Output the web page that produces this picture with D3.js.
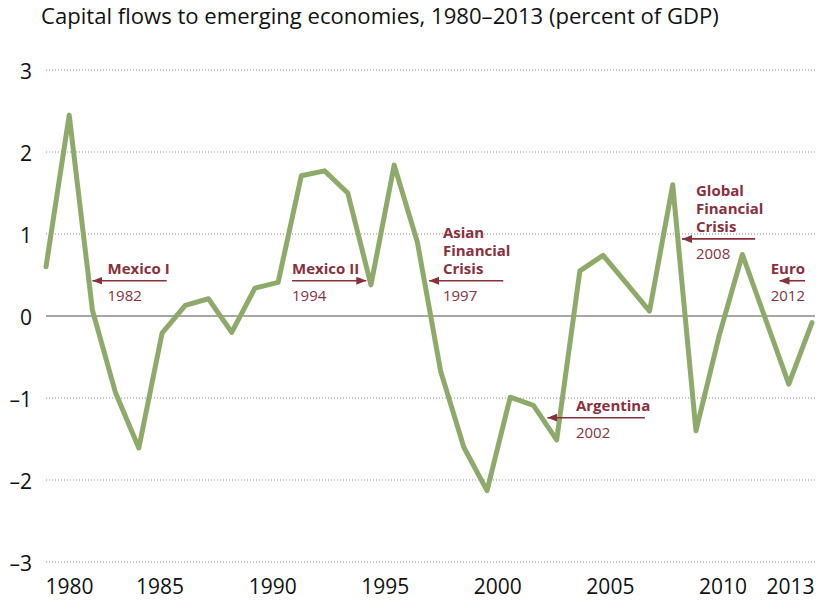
<!DOCTYPE html>
<html><head><meta charset="utf-8">
<script src="https://cdn.jsdelivr.net/npm/d3@7"></script>
<style>
body{margin:0;background:#fff;}
svg{display:block;font-family:"Open Sans",sans-serif;}
</style></head><body>
<svg id="chart" width="820" height="604"></svg>
<script>
// ---- data ----
const years = d3.range(1980, 2014);
const flows = [0.60, 2.45, 0.07, -0.94, -1.61, -0.21, 0.13, 0.21, -0.20, 0.34,
               0.41, 1.71, 1.77, 1.50, 0.38, 1.84, 0.90, -0.67, -1.60, -2.13,
               -0.99, -1.09, -1.51, 0.55, 0.74, 0.40, 0.06, 1.60, -1.40, -0.24,
               0.75, -0.04, -0.83, -0.08];
const yTicks = [-3, -2, -1, 0, 1, 2, 3];
const xTicks = [1980, 1985, 1990, 1995, 2000, 2005, 2010, 2013];
const eventNames = [["Mexico I"], ["Mexico II"], ["Asian", "Financial", "Crisis"], ["Argentina"], ["Global", "Financial", "Crisis"], ["Euro"]];
const eventYears = ["1982", "1994", "1997", "2002", "2008", "2012"];
// arrow tip (year, value) and tail year, label anchor year
const arrowTip = [[1982.0, 0.43], [1993.8, 0.43], [1996.5, 0.43], [2001.6, -1.24], [2007.4, 0.94], [2011.6, 0.43]];
const arrowTail = [1985.2, 1990.6, 1999.7, 2005.8, 2010.55, 2012.7];
const labelAt = [1982.65, 1990.6, 1997.1, 2002.83, 2008.0, 2012.7];
const title = "Capital flows to emerging economies, 1980–2013 (percent of GDP)";

// ---- drawing ----
const svg = d3.select("#chart");
const x = d3.scaleLinear().domain([1980, 2013]).range([46, 812]);
const xLab = d3.scaleLinear().domain([1980, 2013]).range([47, 790]);
const y = d3.scaleLinear().domain([-3, 3]).range([562, 70]);
const gridRight = 815;
const maroon = "#8a2f3d";

svg.append("text").attr("x", 41).attr("y", 24)
  .attr("font-size", 22.1).attr("fill", "#111").text(title);

// grid
svg.append("g").selectAll("line").data(yTicks.filter(d => d !== 0)).join("line")
  .attr("x1", 46).attr("x2", gridRight)
  .attr("y1", d => y(d)).attr("y2", d => y(d))
  .attr("stroke", "#8c8c8c").attr("stroke-width", 1).attr("stroke-dasharray", "1,2");
svg.append("line").attr("x1", 46).attr("x2", gridRight)
  .attr("y1", y(0)).attr("y2", y(0)).attr("stroke", "#8a8a8a").attr("stroke-width", 1.5);

// y axis labels
const yAxis = d3.axisLeft(y).tickValues(yTicks).tickSize(0).tickPadding(0)
  .tickFormat(d => d < 0 ? "–" + Math.abs(d) : String(d));
const gy = svg.append("g").attr("transform", "translate(32,0)").call(yAxis);
gy.select(".domain").remove();
gy.selectAll("text").attr("font-size", 21).attr("fill", "#111")
  .attr("font-family", "Open Sans, sans-serif").attr("dy", "0.42em");

// x axis labels
const xAxis = d3.axisBottom(xLab).tickValues(xTicks).tickSize(0).tickPadding(0).tickFormat(d3.format("d"));
const gx = svg.append("g").attr("transform", "translate(0,578)").call(xAxis);
gx.select(".domain").remove();
gx.selectAll("text").attr("font-size", 21).attr("fill", "#111")
  .attr("font-family", "Open Sans, sans-serif").attr("dy", "0.75em")
  .attr("text-anchor", (d, i) => i === 0 ? "start" : "middle")
  .attr("dx", (d, i) => i === 0 ? -2 : 0);

// line
const line = d3.line().x((d, i) => x(years[i])).y(d => y(d));
svg.append("path").datum(flows).attr("d", line)
  .attr("fill", "none").attr("stroke", "#8eaa6b").attr("stroke-width", 5)
  .attr("stroke-linejoin", "round").attr("stroke-linecap", "round");

// arrows
const defs = svg.append("defs");
defs.append("marker").attr("id", "ah").attr("viewBox", "0 0 10 10")
  .attr("refX", 10).attr("refY", 5).attr("markerWidth", 10).attr("markerHeight", 10)
  .attr("markerUnits", "userSpaceOnUse").attr("orient", "auto")
  .append("path").attr("d", "M0,1 L10,5 L0,9 Z").attr("fill", maroon);

const ann = svg.append("g");
eventNames.forEach((lines, i) => {
  const tx = x(arrowTip[i][0]), ty = y(arrowTip[i][1]);
  const tail = x(arrowTail[i]);
  ann.append("line").attr("x1", tail).attr("y1", ty).attr("x2", tx).attr("y2", ty)
    .attr("stroke", maroon).attr("stroke-width", 1.6).attr("marker-end", "url(#ah)");
  const lx = x(labelAt[i]);
  const anchor = i === 5 ? "end" : "start";
  const n = lines.length;
  const t = ann.append("text").attr("x", lx).attr("y", ty - 7 - (n - 1) * 18)
    .attr("font-size", 15).attr("font-weight", 700).attr("fill", maroon)
    .attr("text-anchor", anchor);
  lines.forEach((s, k) => {
    t.append("tspan").attr("x", lx).attr("dy", k === 0 ? 0 : 18).text(s);
  });
  ann.append("text").attr("x", lx).attr("y", ty + 20)
    .attr("font-size", 15).attr("fill", maroon).attr("text-anchor", anchor).text(eventYears[i]);
});
</script>
</body></html>
